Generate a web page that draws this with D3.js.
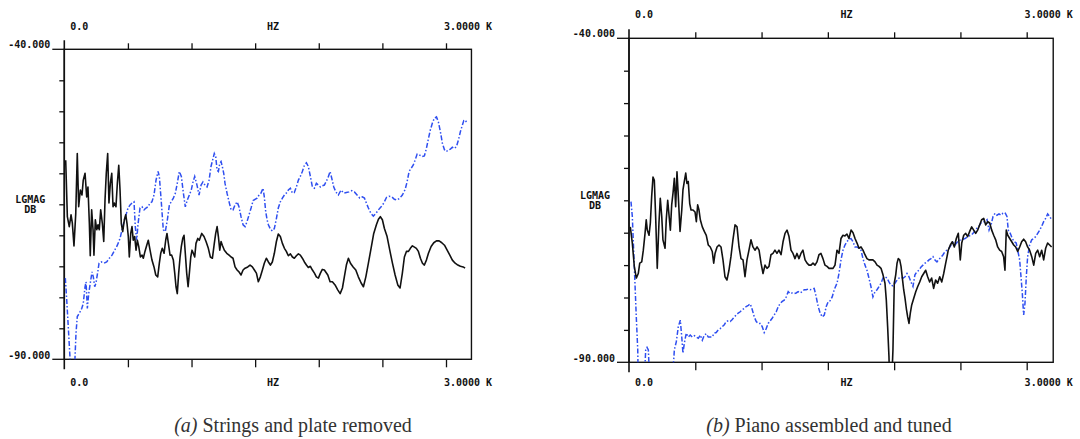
<!DOCTYPE html>
<html>
<head>
<meta charset="utf-8">
<script src="https://cdn.jsdelivr.net/npm/d3@7"></script>
<style>
  body { margin: 0; background: #fff; }
  svg { display: block; }
  .lbl { font-family: "DejaVu Sans Mono", monospace; font-weight: bold; font-size: 10px; fill: #111; }
  .cap { font-family: "Liberation Serif", "Times New Roman", serif; font-size: 20px; fill: #333; }
</style>
</head>
<body>
<svg id="board" width="1080" height="439"></svg>
<script>
// tick values (Hz and dB)
const freqTicks = [0, 500, 1000, 1500, 2000, 2500, 3000];
const dbTicks = [-90, -85, -80, -75, -70, -65, -60, -55, -50, -45, -40];
const axisLabels = { f0: "0.0", fUnit: "HZ", fEnd: "3.0000 K", yTop: "-40.000", yBottom: "-90.000", yName: ["LGMAG", "DB"] };
const captions = [["(a)", " Strings and plate removed"], ["(b)", " Piano assembled and tuned"]];

// (a) strings and plate removed, black = solid trace
const aBlackHz = [11,24,39,53,63,76,90,102,113,126,139,149,163,176,186,197,204,215,226,233,244,255,265,275,286,299,310,320,330,341,351,362,373,383,393,406,417,428,438,448,459,472,483,493,503,511,522,532,542,553,564,574,585,598,611,621,634,648,660,674,689,705,719,734,747,758,770,784,797,807,818,831,844,857,868,878,888,899,910,920,931,941,951,962,973,983,994,1004,1014,1025,1035,1049,1061,1080,1098,1114,1132,1148,1164,1179,1190,1201,1211,1222,1232,1242,1258,1277,1295,1311,1326,1342,1358,1373,1389,1405,1421,1442,1460,1478,1494,1510,1525,1541,1557,1572,1588,1604,1620,1635,1651,1667,1682,1698,1714,1730,1745,1761,1777,1793,1808,1824,1840,1855,1871,1887,1903,1918,1934,1950,1966,1981,1997,2013,2028,2044,2071,2089,2107,2128,2149,2168,2186,2201,2217,2233,2249,2270,2291,2311,2333,2351,2370,2390,2411,2432,2453,2469,2484,2500,2516,2537,2558,2579,2600,2621,2639,2657,2673,2689,2705,2720,2736,2752,2767,2783,2799,2815,2830,2846,2862,2883,2904,2925,2946,2967,2988,3009,3030,3050,3072,3093,3113,3135,3150];
const aBlackDb = [-57.9,-67.0,-68.6,-66.7,-68.0,-71.7,-66.5,-56.8,-65.4,-62.7,-63.5,-61.1,-60.0,-63.8,-62.2,-68.1,-73.3,-65.9,-69.1,-73.2,-67.5,-69.1,-68.3,-69.1,-65.9,-68.1,-71.0,-64.3,-60.0,-56.8,-64.8,-61.6,-60.0,-65.4,-64.8,-65.4,-61.6,-58.7,-62.7,-68.1,-69.4,-67.5,-66.7,-68.1,-70.2,-73.5,-69.7,-68.6,-70.8,-70.2,-72.4,-70.8,-71.8,-73.5,-73.2,-73.7,-72.6,-71.6,-70.8,-72.4,-74.0,-75.1,-76.4,-76.7,-74.5,-72.9,-72.1,-72.9,-70.8,-69.7,-71.3,-73.2,-73.2,-74.0,-76.1,-78.3,-79.4,-76.1,-73.5,-71.8,-70.5,-70.0,-72.9,-76.1,-78.3,-76.1,-73.5,-72.4,-72.9,-73.5,-71.3,-70.5,-70.8,-69.7,-70.2,-71.0,-72.1,-73.5,-73.7,-71.3,-69.7,-68.6,-70.2,-72.4,-71.0,-71.6,-72.4,-72.9,-73.2,-73.5,-73.7,-75.1,-75.6,-75.9,-76.4,-75.6,-75.3,-75.1,-74.8,-75.1,-75.6,-76.1,-77.5,-76.7,-75.6,-74.5,-73.7,-74.3,-74.8,-74.3,-72.9,-71.0,-69.8,-70.2,-71.3,-72.1,-72.6,-73.3,-73.0,-73.5,-73.7,-73.3,-73.0,-73.2,-73.7,-74.3,-74.8,-75.2,-75.0,-75.6,-76.1,-76.7,-76.9,-76.1,-75.5,-75.6,-76.4,-77.5,-77.5,-78.0,-78.8,-79.4,-78.5,-76.7,-74.8,-73.7,-74.5,-75.1,-75.6,-76.7,-77.7,-78.3,-76.7,-74.5,-72.1,-69.7,-68.3,-67.4,-67.0,-67.5,-68.9,-70.2,-72.4,-74.5,-76.4,-78.0,-78.5,-76.1,-73.5,-72.6,-72.6,-72.1,-71.7,-71.9,-72.1,-72.6,-73.7,-74.5,-74.8,-74.0,-72.9,-71.8,-71.2,-70.9,-70.9,-71.2,-71.6,-72.4,-73.2,-74.0,-74.5,-74.8,-75.0,-75.1,-75.3];

// (a) blue = dash-dot trace
const aBlueHz = [8,19,31,45,55,80,84,92,102,118,137,149,163,171,181,192,208,218,228,239,249,263,273,291,312,333,354,375,396,417,438,454,469,485,501,517,532,548,558,569,579,595,611,627,642,658,674,689,705,721,737,747,763,778,794,810,826,841,857,873,888,904,920,936,951,967,983,998,1009,1025,1043,1059,1075,1090,1106,1122,1138,1153,1169,1179,1190,1201,1211,1222,1232,1242,1253,1263,1279,1295,1311,1326,1342,1358,1373,1389,1405,1421,1436,1452,1468,1484,1499,1515,1531,1546,1562,1572,1583,1594,1604,1620,1635,1651,1667,1682,1698,1714,1730,1745,1761,1777,1793,1808,1824,1840,1855,1871,1887,1903,1918,1934,1950,1966,1981,1997,2013,2028,2044,2071,2089,2102,2118,2134,2154,2175,2197,2217,2238,2260,2280,2301,2322,2343,2359,2374,2390,2411,2429,2448,2469,2490,2511,2532,2553,2574,2594,2616,2637,2657,2679,2694,2710,2726,2742,2757,2773,2789,2810,2830,2846,2862,2877,2893,2909,2925,2940,2956,2972,2988,3003,3019,3035,3050,3066,3082,3098,3113,3129,3140,3150,3166];
const aBlueDb = [-76.9,-80.4,-84.7,-89.8,-96,-96,-89.8,-85.8,-83.1,-82.6,-81.8,-81.0,-78.3,-77.5,-81.8,-79.4,-77.2,-75.9,-76.7,-78.3,-77.7,-75.9,-74.5,-74.3,-74.5,-74.3,-73.7,-73.2,-72.4,-71.6,-70.5,-69.1,-67.8,-66.7,-65.6,-65.1,-64.8,-64.6,-68.6,-70.8,-68.3,-65.6,-65.4,-65.9,-65.6,-65.4,-64.8,-64.6,-63.5,-61.1,-59.7,-60.5,-64.8,-69.1,-69.4,-67.5,-65.1,-64.6,-64.0,-63.2,-61.6,-59.7,-60.5,-63.2,-65.4,-64.3,-63.5,-62.7,-61.6,-60.5,-61.9,-63.5,-61.9,-61.4,-61.9,-62.2,-61.1,-58.9,-57.6,-56.8,-57.3,-59.5,-59.7,-58.4,-58.1,-58.9,-60.0,-61.6,-63.2,-64.6,-65.9,-65.9,-65.1,-64.6,-65.4,-67.0,-68.3,-68.6,-67.8,-66.7,-65.6,-64.4,-64.2,-64.0,-63.5,-63.2,-62.4,-63.8,-66.2,-67.5,-68.3,-69.0,-69.3,-68.9,-67.3,-65.6,-64.6,-64.0,-63.5,-63.2,-62.7,-62.4,-63.2,-63.1,-62.2,-61.1,-60.5,-59.7,-58.7,-58.3,-58.9,-60.5,-62.2,-62.4,-61.6,-61.9,-62.2,-62.0,-61.9,-60.8,-59.7,-60.8,-62.2,-63.0,-63.5,-62.7,-63.2,-63.1,-63.0,-62.8,-63.0,-63.5,-64.0,-63.8,-64.0,-64.8,-65.6,-66.5,-66.9,-66.5,-65.9,-65.4,-64.8,-63.9,-63.7,-63.8,-64.2,-64.3,-64.0,-63.5,-62.6,-61.4,-59.7,-59.2,-58.7,-57.9,-56.9,-57.0,-57.3,-57.2,-56.0,-54.4,-53.0,-51.9,-51.1,-50.9,-51.7,-53.3,-55.2,-56.2,-56.5,-56.2,-56.1,-55.8,-56.0,-55.7,-54.6,-53.3,-52.2,-51.5,-51.4,-51.9];

// (b) piano assembled and tuned, black trace
const bBlackHz = [10,25,40,55,70,81,96,108,121,130,138,151,161,171,181,191,201,213,226,236,247,256,272,281,292,302,312,322,332,342,352,362,372,385,398,407,417,428,437,447,458,468,483,498,508,518,528,538,553,568,583,598,613,628,639,649,664,679,694,709,724,739,754,769,784,800,815,830,845,860,875,890,905,920,935,950,966,981,996,1011,1026,1041,1056,1071,1086,1101,1116,1131,1147,1162,1177,1192,1207,1222,1237,1252,1267,1282,1297,1312,1328,1343,1358,1373,1388,1403,1418,1433,1448,1463,1478,1494,1509,1524,1539,1554,1569,1584,1599,1614,1629,1644,1659,1675,1690,1705,1720,1735,1750,1765,1780,1795,1810,1825,1840,1856,1871,1886,1901,1916,1931,1941,1951,1961,1966,1982,1991,2001,2012,2022,2031,2042,2052,2062,2072,2082,2092,2102,2112,2122,2132,2148,2163,2178,2193,2208,2223,2238,2253,2268,2283,2298,2313,2328,2344,2359,2374,2389,2399,2408,2424,2439,2454,2469,2484,2499,2510,2525,2540,2555,2570,2585,2600,2615,2630,2645,2660,2676,2691,2706,2721,2736,2751,2766,2781,2796,2811,2826,2836,2846,2857,2872,2887,2902,2917,2932,2947,2962,2977,2992,3007,3022,3038,3053,3068,3083,3098,3113,3128,3143,3158,3173,3188];
const bBlackDb = [-69.1,-71.6,-75.2,-77.0,-76.3,-74.7,-74.5,-72.7,-70.1,-68.0,-69.6,-70.4,-68.5,-64.4,-61.4,-61.9,-67.5,-75.5,-68.5,-64.7,-67.5,-71.1,-72.4,-68.0,-65.0,-67.3,-69.6,-65.7,-63.9,-61.6,-66.0,-60.6,-64.4,-69.8,-66.5,-63.4,-62.1,-60.8,-62.4,-62.1,-65.5,-66.5,-66.5,-66.8,-68.3,-65.7,-66.5,-68.0,-69.1,-69.8,-70.4,-71.9,-72.2,-72.9,-74.7,-73.2,-72.2,-71.9,-72.2,-74.2,-76.8,-77.3,-75.8,-73.7,-71.1,-68.8,-69.1,-72.2,-74.0,-74.2,-76.8,-74.2,-72.7,-71.1,-72.2,-72.7,-72.2,-72.7,-74.7,-76.3,-75.0,-75.5,-75.2,-73.4,-73.2,-72.7,-73.2,-72.7,-73.4,-71.4,-70.1,-69.6,-70.6,-72.7,-73.2,-74.0,-73.2,-74.0,-73.2,-72.7,-74.2,-74.7,-75.0,-75.0,-74.7,-75.0,-74.5,-73.4,-73.2,-74.0,-75.0,-75.2,-75.5,-75.5,-75.5,-75.0,-72.7,-73.2,-70.9,-70.4,-70.5,-70.2,-70.9,-69.6,-70.0,-70.9,-71.6,-72.4,-72.2,-72.7,-73.4,-74.0,-74.2,-74.2,-74.2,-74.5,-75.0,-75.2,-75.5,-76.5,-77.8,-80.4,-84.5,-89.1,-93,-93,-88.1,-77.8,-76.5,-74.7,-74.0,-74.2,-75.2,-77.0,-78.8,-80.1,-81.7,-83.0,-84.0,-82.4,-81.2,-80.1,-79.1,-78.3,-77.6,-76.8,-76.3,-75.8,-76.8,-77.6,-77.0,-78.6,-77.3,-77.8,-76.8,-77.6,-76.3,-74.7,-73.7,-72.7,-71.9,-71.4,-72.2,-70.9,-70.1,-74.2,-71.6,-70.4,-70.1,-70.6,-69.8,-69.1,-69.6,-70.1,-69.6,-68.8,-68.0,-67.8,-68.8,-68.3,-68.5,-69.6,-70.4,-71.1,-72.2,-72.7,-72.9,-73.7,-75.8,-69.6,-70.4,-70.9,-71.4,-71.9,-72.2,-72.9,-72.2,-71.4,-71.0,-71.4,-72.2,-72.7,-73.7,-75.0,-73.2,-72.7,-73.7,-72.7,-74.2,-72.4,-71.6,-71.9,-72.2];

// (b) blue trace
const bBlueHz = [15,25,35,45,55,66,70,115,126,136,146,156,327,342,357,372,387,398,407,417,432,447,462,477,493,508,523,538,553,568,583,598,613,628,643,658,673,688,704,719,734,749,764,779,794,809,824,839,854,869,884,900,915,930,945,960,975,990,1005,1020,1035,1050,1065,1080,1095,1111,1126,1141,1156,1171,1186,1201,1216,1231,1246,1261,1276,1292,1307,1322,1337,1352,1367,1382,1397,1412,1427,1442,1458,1473,1488,1503,1518,1533,1548,1569,1584,1599,1614,1629,1644,1659,1675,1690,1705,1720,1735,1750,1765,1780,1795,1810,1825,1840,1856,1871,1886,1901,1916,1931,1946,1961,1976,1991,2006,2022,2037,2052,2067,2082,2097,2112,2127,2142,2157,2172,2187,2203,2218,2233,2248,2263,2278,2293,2308,2323,2338,2353,2369,2384,2399,2414,2429,2444,2459,2474,2489,2504,2519,2535,2550,2565,2580,2595,2610,2625,2640,2655,2670,2685,2701,2716,2731,2746,2761,2776,2791,2806,2821,2836,2851,2861,2876,2891,2906,2921,2932,2947,2957,2967,2977,2987,2997,3007,3022,3038,3053,3068,3083,3098,3113,3128,3143,3158,3173,3188];
const bBlueDb = [-65.2,-67.5,-72.7,-77.8,-83.0,-88.1,-93,-93,-88.1,-87.7,-88.1,-93,-93,-88.1,-86.8,-84.5,-83.5,-86.1,-88.6,-87.1,-85.5,-86.1,-85.8,-86.1,-85.9,-86.1,-86.3,-85.8,-86.6,-85.8,-85.6,-86.1,-86.1,-86.1,-85.5,-85.4,-85.0,-84.8,-84.5,-84.2,-83.7,-83.6,-83.7,-83.4,-83.0,-82.7,-82.4,-82.2,-81.9,-81.7,-81.4,-81.2,-81.0,-81.9,-83.0,-83.7,-84.0,-84.0,-84.5,-85.4,-84.8,-84.0,-83.6,-83.2,-82.7,-82.2,-81.4,-80.9,-80.6,-80.4,-79.9,-79.1,-79.4,-79.3,-79.4,-79.3,-79.1,-79.3,-79.1,-78.8,-78.8,-78.7,-78.8,-78.7,-78.6,-79.9,-81.4,-82.4,-83.0,-82.7,-81.4,-80.6,-80.5,-79.9,-78.8,-77.8,-76.3,-74.2,-72.7,-71.9,-71.4,-71.0,-70.9,-71.4,-72.2,-72.2,-72.4,-72.7,-74.0,-75.0,-75.8,-77.0,-78.3,-79.9,-79.1,-78.8,-78.3,-77.8,-77.0,-76.8,-77.0,-77.6,-78.1,-78.2,-77.8,-77.3,-77.0,-76.9,-77.0,-76.8,-76.3,-76.8,-77.6,-78.3,-76.5,-76.0,-75.8,-75.3,-75.0,-74.7,-74.5,-74.2,-74.0,-73.7,-74.2,-74.5,-74.1,-73.8,-73.4,-72.9,-72.7,-72.4,-71.9,-71.5,-71.9,-71.5,-71.2,-71.1,-71.0,-70.9,-70.7,-70.5,-70.4,-70.1,-69.7,-69.3,-69.0,-68.5,-68.3,-68.3,-68.0,-69.6,-68.8,-67.5,-67.0,-67.3,-67.1,-67.3,-67.0,-66.9,-67.5,-69.6,-70.1,-70.9,-71.4,-71.6,-72.7,-74.2,-76.8,-79.4,-82.7,-80.9,-76.8,-73.7,-71.9,-71.1,-70.9,-70.6,-70.1,-69.6,-69.0,-68.3,-67.8,-67.1,-67.5,-68.0];

const svg = d3.select("#board");
const blue = "#2f4ff0";

function drawPanel(p) {
    const x = d3.scaleLinear().domain([0, 3200]).range([p.left, p.left + (p.x3k - p.left) * 3200 / 3000]);
    const y = d3.scaleLinear().domain([-90, -40]).range([p.bottom, p.top]);
    const g = svg.append("g");

    g.append("clipPath").attr("id", p.id + "-clip")
        .append("rect")
        .attr("x", x(0)).attr("y", y(-40))
        .attr("width", x(3200) - x(0)).attr("height", y(-90) - y(-40));

    // frame
    g.append("rect")
        .attr("x", x(0)).attr("y", y(-40))
        .attr("width", x(3200) - x(0)).attr("height", y(-90) - y(-40))
        .attr("fill", "none").attr("stroke", "#111").attr("stroke-width", 1.4);

    // left axis line runs past the frame
    g.append("line")
        .attr("x1", x(0)).attr("x2", x(0))
        .attr("y1", y(-40) - 9).attr("y2", y(-90) + 10)
        .attr("stroke", "#111").attr("stroke-width", 1.6);

    const ya = g.append("g").attr("transform", `translate(${x(0)},0)`)
        .call(d3.axisLeft(y).tickValues(dbTicks.slice(1, -1)).tickSize(5).tickFormat(""));
    ya.select(".domain").remove();

    // long ticks at the ends
    [-40, -90].forEach(v => {
        g.append("line")
            .attr("x1", x(0) - 12).attr("x2", x(0))
            .attr("y1", y(v)).attr("y2", y(v))
            .attr("stroke", "#111").attr("stroke-width", 1.3);
    });

    const xt = g.append("g").attr("transform", `translate(0,${y(-40)})`)
        .call(d3.axisTop(x).tickValues(freqTicks.slice(1)).tickSize(6).tickFormat(""));
    xt.select(".domain").remove();
    const xb = g.append("g").attr("transform", `translate(0,${y(-90)})`)
        .call(d3.axisBottom(x).tickValues(freqTicks.slice(1)).tickSize(8).tickFormat(""));
    xb.select(".domain").remove();
    g.selectAll(".tick line").attr("stroke", "#111").attr("stroke-width", 1.3);

    // labels
    [y(-40) - p.topGap, y(-90) + p.botGap].forEach(ty => {
        g.append("text").attr("class", "lbl").attr("x", x(0) + 15).attr("y", ty)
            .attr("text-anchor", "middle").attr("dominant-baseline", "middle").text(axisLabels.f0);
        g.append("text").attr("class", "lbl").attr("x", x(1640)).attr("y", ty)
            .attr("text-anchor", "middle").attr("dominant-baseline", "middle").text(axisLabels.fUnit);
        g.append("text").attr("class", "lbl").attr("x", x(3000) + 22).attr("y", ty)
            .attr("text-anchor", "middle").attr("dominant-baseline", "middle").text(axisLabels.fEnd);
    });
    g.append("text").attr("class", "lbl").attr("x", x(0) - 14).attr("y", y(-40) - 4)
        .attr("text-anchor", "end").attr("dominant-baseline", "middle").text(axisLabels.yTop);
    g.append("text").attr("class", "lbl").attr("x", x(0) - 14).attr("y", y(-90) - 3)
        .attr("text-anchor", "end").attr("dominant-baseline", "middle").text(axisLabels.yBottom);
    axisLabels.yName.forEach((t, i) => {
        g.append("text").attr("class", "lbl").attr("x", x(0) - 34).attr("y", y(-65) - 4 + i * 9.5)
            .attr("text-anchor", "middle").attr("dominant-baseline", "middle").text(t);
    });

    const line = d3.line().x(d => x(d[0])).y(d => y(d[1]));
    const curves = g.append("g").attr("clip-path", `url(#${p.id}-clip)`);

    curves.append("path")
        .datum(d3.zip(p.blueHz, p.blueDb))
        .attr("d", line)
        .attr("fill", "none").attr("stroke", blue).attr("stroke-width", 1.5)
        .attr("stroke-dasharray", "5,2,1.5,2");
    curves.append("path")
        .datum(d3.zip(p.blackHz, p.blackDb))
        .attr("d", line)
        .attr("fill", "none").attr("stroke", "#111").attr("stroke-width", 1.6)
        .attr("stroke-linejoin", "round");

    // caption
    const cap = svg.append("text").attr("class", "cap")
        .attr("x", p.capX).attr("y", 432).attr("text-anchor", "middle");
    cap.append("tspan").attr("font-style", "italic").text(p.caption[0]);
    cap.append("tspan").text(p.caption[1]);
}

drawPanel({ id: "a", left: 64.3, x3k: 446, top: 49.3, bottom: 359.3, topGap: 22, botGap: 24,
    blackHz: aBlackHz, blackDb: aBlackDb, blueHz: aBlueHz, blueDb: aBlueDb,
    caption: captions[0], capX: 293 });
drawPanel({ id: "b", left: 629, x3k: 1026.7, top: 38.3, bottom: 362.3, topGap: 23, botGap: 21,
    blackHz: bBlackHz, blackDb: bBlackDb, blueHz: bBlueHz, blueDb: bBlueDb,
    caption: captions[1], capX: 829 });
</script>
</body>
</html>
